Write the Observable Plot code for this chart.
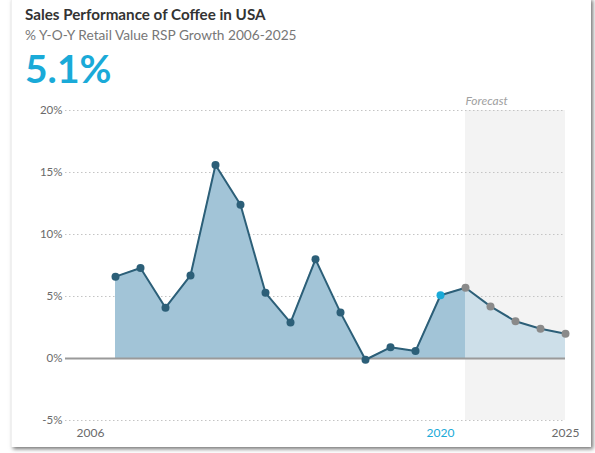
<!DOCTYPE html>
<html>
<head>
<meta charset="utf-8">
<script src="https://cdn.jsdelivr.net/npm/d3@7"></script>
<script src="https://cdn.jsdelivr.net/npm/@observablehq/plot@0.6"></script>
<style>
  html, body { margin: 0; padding: 0; background: #fff; }
  body { width: 595px; height: 453px; position: relative; overflow: hidden; font-family: Lato, "Open Sans", sans-serif; }
  .card { position: absolute; left: 11px; top: -2px; width: 579px; height: 449px; background: #fff;
          border-left: 1px solid #f0f0f0; box-shadow: 2px 2px 4px rgba(0,0,0,0.55); }
  .t { position: absolute; left: 25px; line-height: 1; white-space: nowrap; }
  #title { top: 7px; font-size: 15.2px; font-weight: bold; color: #333; }
  #subtitle { top: 28px; font-size: 13.7px; color: #777; }
  #headline { top: 49px; font-size: 39px; font-weight: bold; color: #1aaad8; }
  #chart { position: absolute; left: 0; top: 85px; }
</style>
</head>
<body>
<div class="card"></div>
<div class="t" id="title">Sales Performance of Coffee in USA</div>
<div class="t" id="subtitle">% Y-O-Y Retail Value RSP Growth 2006-2025</div>
<div class="t" id="headline">5.1%</div>
<div id="chart"></div>
<script>
const years = [2007, 2008, 2009, 2010, 2011, 2012, 2013, 2014, 2015, 2016, 2017, 2018, 2019, 2020, 2021, 2022, 2023, 2024, 2025];
const growth = [6.6, 7.3, 4.1, 6.7, 15.6, 12.4, 5.3, 2.9, 8.0, 3.7, -0.1, 0.9, 0.6, 5.1, 5.7, 4.2, 3.0, 2.4, 2.0];
const forecastStart = 2021;
const highlightYear = 2020;
const yTicks = [-5, 0, 5, 10, 15, 20];
const xTicks = [2006, 2020, 2025];
const xDomain = [2005, 2025];
const yDomain = [-5, 20];

const data = years.map((year, i) => ({year, value: growth[i]}));
const history = data.filter(d => d.year <= forecastStart);
const forecast = data.filter(d => d.year >= forecastStart);

const lineColor = "#2c5f78";
const chart = Plot.plot({
  width: 595,
  height: 368,
  marginTop: 25,
  marginBottom: 33,
  marginLeft: 65,
  marginRight: 30,
  style: {fontFamily: "Lato, 'Open Sans', sans-serif", background: "transparent", overflow: "visible"},
  x: {domain: xDomain, axis: null},
  y: {domain: yDomain, axis: null},
  color: {type: "identity"},
  marks: [
    Plot.rect([{x1: forecastStart, x2: xDomain[1]}], {x1: "x1", x2: "x2", y1: yDomain[0], y2: yDomain[1], fill: "#f3f3f3"}),
    Plot.ruleY(yTicks.filter(t => t !== 0), {stroke: "#c4c4c4", strokeDasharray: "1.5,2.5", strokeWidth: 1}),
    Plot.areaY(history, {x: "year", y: "value", fill: "#a2c4d7"}),
    Plot.areaY(forecast, {x: "year", y: "value", fill: "#cddfe9"}),
    Plot.ruleY([0], {stroke: "#9a9a9a", strokeWidth: 2}),
    Plot.line(data, {x: "year", y: "value", stroke: lineColor, strokeWidth: 2}),
    Plot.dot(data, {x: "year", y: "value", r: 4,
      fill: d => d.year === highlightYear ? "#1aaad8" : d.year >= forecastStart ? "#8a8a8a" : lineColor}),
    Plot.text(yTicks, {x: xDomain[0], y: d => d, text: d => d + "%", textAnchor: "end", dx: -3, fill: "#6a6a6a", fontSize: 11.5}),
    Plot.text(xTicks, {x: d => d, y: yDomain[0], dy: 13, text: d => String(d), fontSize: 12,
      fill: d => d === highlightYear ? "#1aaad8" : "#6a6a6a"}),
    Plot.text(["Forecast"], {x: forecastStart, y: yDomain[1], dy: -9, textAnchor: "start", fontStyle: "italic", fill: "#a0a0a0", fontSize: 12})
  ]
});
document.getElementById("chart").appendChild(chart);
</script>
</body>
</html>
